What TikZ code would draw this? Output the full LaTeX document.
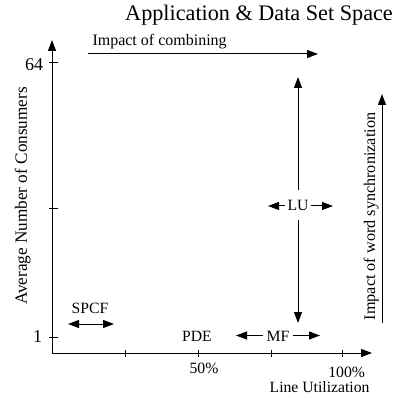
\documentclass[tikz,border=0pt]{standalone}
\usepackage{fontspec}
\setmainfont{Liberation Serif}
\usetikzlibrary{arrows.meta}
\begin{document}
\begin{tikzpicture}[x=1pt,y=-1pt,line width=1pt,
  lbl/.style={inner sep=0pt,font=\fontsize{15.7}{18}\selectfont},
  arr/.style={-{Triangle[length=11pt,width=8pt]}},
  darr/.style={{Triangle[length=11pt,width=8pt]}-{Triangle[length=11pt,width=8pt]}},
  tick/.style={line width=0.8pt}]
\useasboundingbox (0,0) rectangle (399,398);
% axes
\coordinate (o) at (52,353);
\coordinate (ytop) at (52,40);
\coordinate (xend) at (372,353);
\draw[arr] (o) -- (ytop);
\draw[arr] (o) -- (xend);
% x ticks
\foreach \x/\n in {125/a,198/b,271/c,342/d} {
  \coordinate (xt\n) at (\x,350); \coordinate (xb\n) at (\x,357);
  \draw[tick] (xt\n) -- (xb\n);
}
% y ticks
\foreach \y/\n in {62/a,208/b,337/c} {
  \coordinate (yl\n) at (49,\y); \coordinate (yr\n) at (58,\y);
  \draw[tick] (yl\n) -- (yr\n);
}
% title
\node[inner sep=0pt,anchor=base,font=\fontsize{22.2}{26}\selectfont] (title) at (259,21) {Application \& Data Set Space};
% axis labels
\node[lbl,anchor=base east,font=\fontsize{18}{20}\selectfont] (l64) at (43.5,70.5) {64};
\node[lbl,anchor=base,font=\fontsize{18}{20}\selectfont] (l1) at (37.7,342.5) {1};
\node[lbl,anchor=base] (l50) at (204,373.3) {50\%};
\node[lbl,anchor=base] (l100) at (346.7,377.7) {100\%};
\node[lbl,anchor=base east] (lu) at (370,392.7) {Line Utilization};
\node[lbl,rotate=90,anchor=base,font=\fontsize{17.2}{18}\selectfont] (ylab) at (27,196) {Average Number of Consumers};
\node[lbl,rotate=90,anchor=base,font=\fontsize{16.2}{18}\selectfont] (wlab) at (375,216.5) {Impact of word synchronization};
% combining
\node[lbl,anchor=base west,font=\fontsize{16}{18}\selectfont] (comb) at (92,46) {Impact of combining};
\coordinate (c1) at (88,54);
\coordinate (c2) at (318,54);
\draw[arr] (c1) -- (c2);
% word sync arrow
\coordinate (w1) at (382,323);
\coordinate (w2) at (382,94);
\draw[arr] (w1) -- (w2);
% LU
\node[lbl,anchor=base] (LU) at (298,210.7) {LU};
\coordinate (lutop) at (298,77);
\coordinate (lubot) at (298,323);
\coordinate (luleft) at (268,206);
\coordinate (luright) at (333,206);
\draw[arr] (LU.north |- 0,190) -- (lutop);
\draw[arr] (LU.south |- 0,220) -- (lubot);
\draw[arr] (LU.west |- 0,206) ++(-2,0) -- (luleft);
\draw[arr] (LU.east |- 0,206) ++(2,0) -- (luright);
% SPCF
\node[lbl,anchor=base] (SPCF) at (90,313) {SPCF};
\coordinate (s1) at (68,324);
\coordinate (s2) at (114,324);
\draw[darr] (s1) -- (s2);
% PDE
\node[lbl,anchor=base] (PDE) at (197,341.7) {PDE};
% MF
\node[lbl,anchor=base] (MF) at (278,341) {MF};
\coordinate (mfl) at (236,335.5);
\coordinate (mfr) at (320,335.5);
\draw[arr] (MF.west |- 0,335.5) ++(-3,0) -- (mfl);
\draw[arr] (MF.east |- 0,335.5) ++(3,0) -- (mfr);
\end{tikzpicture}
\end{document}
